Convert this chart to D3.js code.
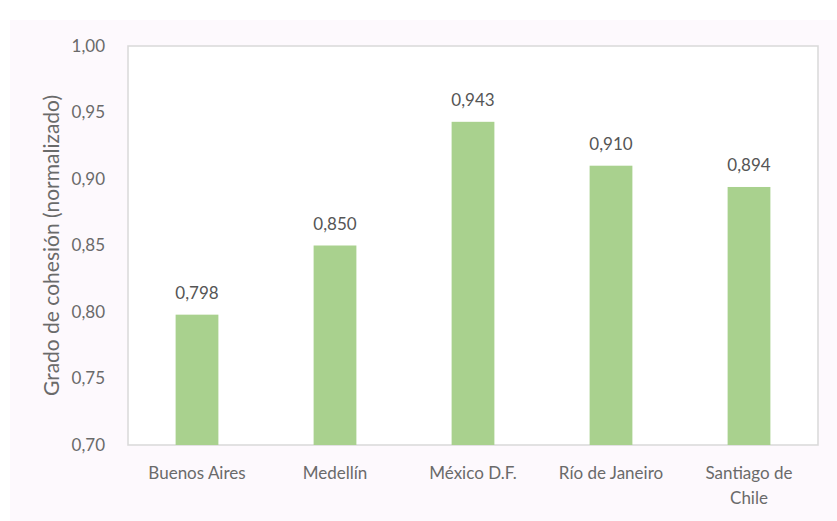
<!DOCTYPE html>
<html>
<head>
<meta charset="utf-8">
<script src="https://cdn.jsdelivr.net/npm/d3@7"></script>
<style>
  body { margin: 0; background: #fff; }
  text { font-family: Lato, "Open Sans", sans-serif; }
</style>
</head>
<body>
<div id="container"></div>
<script>
const cities = ["Buenos Aires", "Medellín", "México D.F.", "Río de Janeiro", "Santiago de Chile"];
const values = [0.798, 0.850, 0.943, 0.910, 0.894];
const yTicks = [0.70, 0.75, 0.80, 0.85, 0.90, 0.95, 1.00];
const yTitle = "Grado de cohesión (normalizado)";

function main() {
    const width = 837, height = 521;
    const plot = { left: 128, right: 818, top: 46, bottom: 445 };
    const fmt = d3.format(".2f"), fmt3 = d3.format(".3f");
    const comma = s => s.replace(".", ",");

    const svg = d3.select("#container")
        .append("svg")
        .attr("width", width)
        .attr("height", height);

    // chart area background
    svg.append("rect")
        .attr("x", 10).attr("y", 20)
        .attr("width", width - 10).attr("height", height - 20)
        .attr("fill", "#fdf9fd");

    svg.append("rect")
        .attr("x", plot.left).attr("y", plot.top)
        .attr("width", plot.right - plot.left)
        .attr("height", plot.bottom - plot.top)
        .attr("fill", "#fff")
        .attr("stroke", "#d9d9d9")
        .attr("stroke-width", 1.5);

    let x = d3.scaleBand()
        .domain(cities)
        .range([plot.left, plot.right])
        .paddingInner(0.69)
        .paddingOuter(0.345);

    let y = d3.scaleLinear()
        .domain([0.70, 1.00])
        .range([plot.bottom, plot.top]);

    let yAxis = svg.append("g")
        .attr("transform", `translate(${plot.left},0)`)
        .call(d3.axisLeft(y).tickValues(yTicks).tickSize(0).tickPadding(23).tickFormat(d => comma(fmt(d))));
    yAxis.select(".domain").remove();
    yAxis.selectAll("text")
        .attr("font-size", 17)
        .attr("fill", "#6a6a6a")
        .style("font-family", "Lato, sans-serif");

    svg.append("g")
        .selectAll("rect")
        .data(values)
        .join("rect")
        .attr("x", (d, i) => x(cities[i]))
        .attr("y", d => y(d))
        .attr("width", x.bandwidth())
        .attr("height", d => y(0.70) - y(d))
        .attr("fill", "#a9d18e");

    svg.append("g")
        .selectAll("text")
        .data(values)
        .join("text")
        .attr("x", (d, i) => x(cities[i]) + x.bandwidth() / 2)
        .attr("y", d => y(d) - 16)
        .attr("text-anchor", "middle")
        .attr("font-size", 17)
        .attr("fill", "#555")
        .text(d => comma(fmt3(d)));

    // category labels, Santiago wraps onto two lines
    const labelLines = ["Buenos Aires", "Medellín", "México D.F.", "Río de Janeiro", "Santiago de|Chile"];
    let cat = svg.append("g")
        .selectAll("text")
        .data(cities)
        .join("text")
        .attr("x", d => x(d) + x.bandwidth() / 2)
        .attr("y", 479)
        .attr("text-anchor", "middle")
        .attr("font-size", 17)
        .attr("fill", "#6a6a6a");
    cat.each(function (d, i) {
        const parts = labelLines[i].split("|");
        d3.select(this).selectAll("tspan")
            .data(parts)
            .join("tspan")
            .attr("x", x(d) + x.bandwidth() / 2)
            .attr("dy", (p, j) => j == 0 ? 0 : 25)
            .text(p => p);
    });

    svg.append("text")
        .attr("transform", `translate(59,${(plot.top + plot.bottom) / 2}) rotate(-90)`)
        .attr("text-anchor", "middle")
        .attr("font-size", 21)
        .attr("fill", "#6a6a6a")
        .text(yTitle);
}
main();
</script>
</body>
</html>
